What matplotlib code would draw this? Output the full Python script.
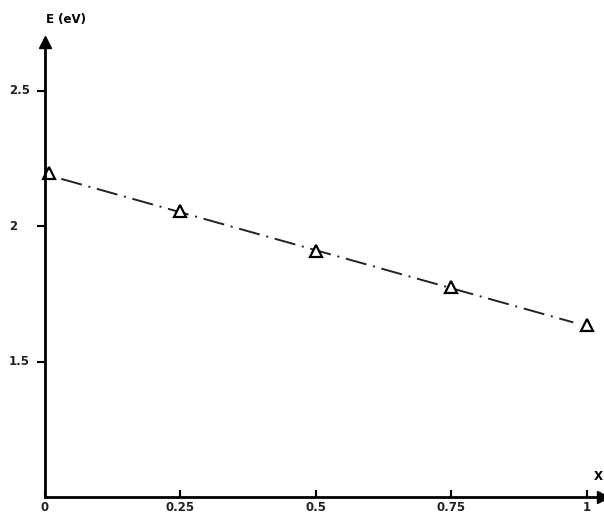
import matplotlib.pyplot as plt

# measured band gap vs composition
x_vals = [0.008, 0.25, 0.5, 0.75, 1]
e_vals = [2.195, 2.055, 1.91, 1.775, 1.635]

# dash-dot trend line ends
fit_x = [0.03, 0.975]
fit_y = [2.175, 1.645]

xticks = [0, 0.25, 0.5, 0.75, 1]
xtick_labels = ['0', '0.25', '0.5', '0.75', '1']
yticks = [1.5, 2, 2.5]
ytick_labels = ['1.5', '2', '2.5']

fig = plt.figure(figsize=(6.04, 5.13), dpi=100)
ax = fig.add_axes([0.0745, 0.031, 0.924, 0.887])
ax.set_xlim(0, 1.03)
ax.set_ylim(1.0, 2.68)

ax.spines['top'].set_visible(False)
ax.spines['right'].set_visible(False)
ax.spines['left'].set_linewidth(2)
ax.spines['bottom'].set_linewidth(2)

ax.plot(fit_x, fit_y, color='#222222', lw=1.4, dashes=(11, 3.5, 1, 3.5))
ax.plot(x_vals, e_vals, linestyle='none', marker='^', markersize=9,
        markerfacecolor='white', markeredgecolor='black', markeredgewidth=1.6,
        clip_on=False)

# arrow heads on the axes
ax.plot(1, 0, marker='>', color='black', markersize=8,
        transform=ax.transAxes, clip_on=False)
ax.plot(0, 1, marker='^', color='black', markersize=8,
        transform=ax.transAxes, clip_on=False)

ax.set_xticks(xticks)
ax.set_xticklabels(xtick_labels)
ax.set_yticks(yticks)
ax.set_yticklabels([])
ax.tick_params(axis='x', direction='in', length=5, width=1.5, pad=3,
               labelsize=8.5)
ax.tick_params(axis='y', direction='out', length=6, width=1.5)
for lab in ax.get_xticklabels():
    lab.set_fontweight('bold')
    lab.set_color('#222222')

# y labels sit left-aligned in the old plot
for yv, lab in zip(yticks, ytick_labels):
    ax.text(-0.065, yv, lab, transform=ax.get_yaxis_transform(),
            ha='left', va='center', fontsize=8.5, fontweight='bold',
            color='#222222')

fig.text(66 / 604, 1 - 20 / 513, 'E (eV)', fontsize=8.5, fontweight='bold',
         ha='center', va='center')
fig.text(598 / 604, 1 - 476 / 513, 'X', fontsize=8.5, fontweight='bold',
         ha='center', va='center')

plt.savefig('out.png', dpi=100, facecolor='white')
